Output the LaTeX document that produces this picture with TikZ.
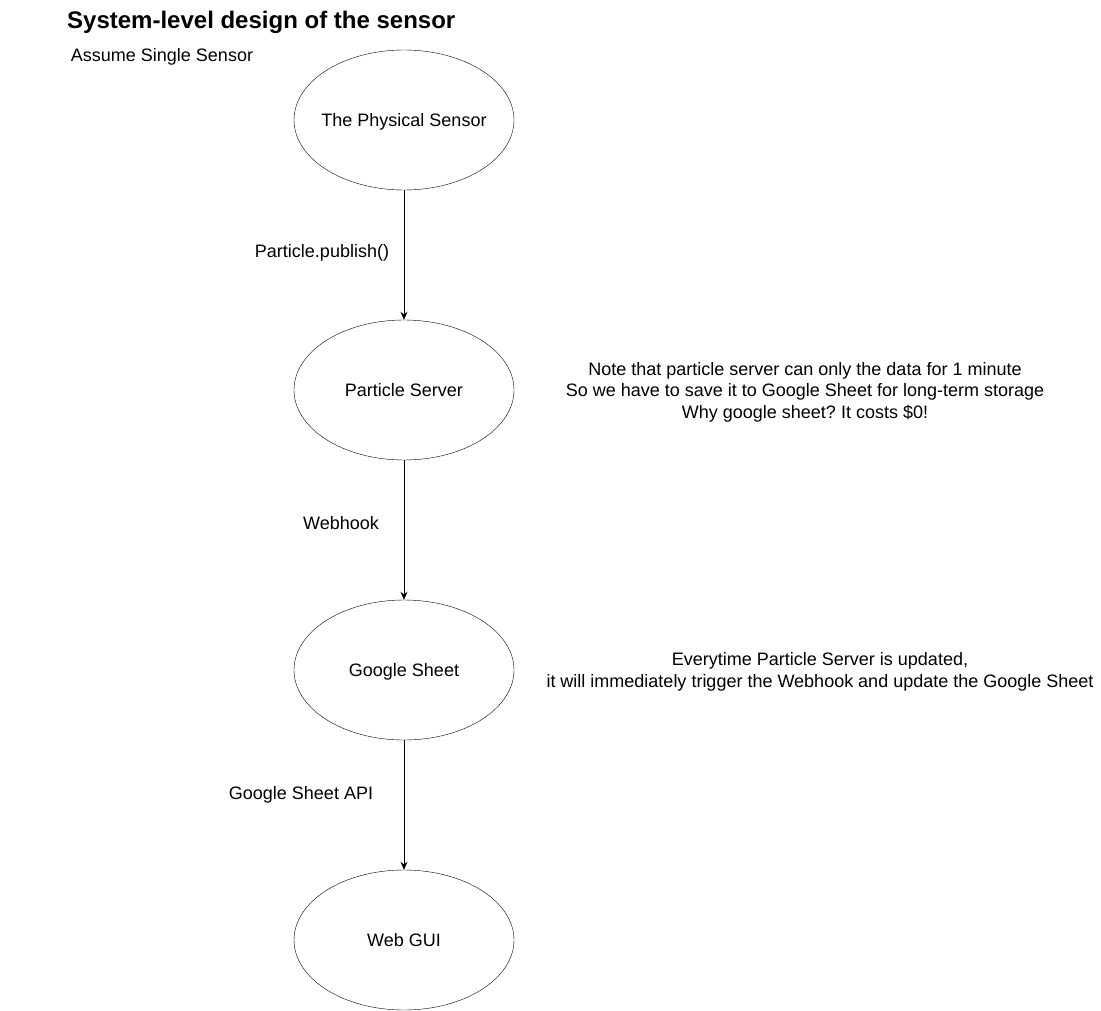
\documentclass[tikz,border=0pt]{standalone}
\usepackage{fontspec}
\setmainfont{Liberation Sans}
\frenchspacing
\usetikzlibrary{arrows.meta,positioning}
\tikzset{
    stage/.style={draw,ellipse,minimum width=220pt,minimum height=140pt,inner ysep=0pt,inner xsep=-40pt,text depth=0pt,font=\fontsize{18}{21.6}\selectfont},
    flow/.style={-{Stealth[length=8pt,width=7pt]},line width=0.8pt},
    lbl/.style={font=\fontsize{18}{21.6}\selectfont,inner sep=0pt},
    note/.style={font=\fontsize{18}{21.6}\selectfont,align=center,inner sep=0pt}
}
\usetikzlibrary{shapes.geometric}
\begin{document}
\begin{tikzpicture}[x=1pt,y=-1pt]
        \useasboundingbox (0,0) rectangle (1101,1011);
        %% title
        \node[anchor=west,font=\fontsize{24}{28}\selectfont\bfseries,inner sep=0pt] (title) at (67,22) {System-level design of the sensor};
        \node[lbl] (assume) at (162,57) {Assume Single Sensor};
        %% stages
        \node[stage] (sensor) at (404,120) {The Physical Sensor};
        \node[stage] (server) at (404,390) {Particle Server};
        \node[stage] (sheet) at (404,670) {Google Sheet};
        \node[stage] (gui) at (404,940) {Web GUI};
        %% connectors
        \draw[flow] (sensor) -- (server);
        \draw[flow] (server) -- (sheet);
        \draw[flow] (sheet) -- (gui);
        \node[lbl] (publish) at (322,253) {Particle.publish()};
        \node[lbl] (webhook) at (341,523) {Webhook};
        \node[lbl] (api) at (301,795) {Google Sheet API};
        %% notes
        \node[note] (storage) at (805,392) {Note that particle server can only the data for 1 minute\\So we have to save it to Google Sheet for long-term storage\\Why google sheet? It costs \$0!};
        \node[note] (trigger) at (820,672) {Everytime Particle Server is updated,\\it will immediately trigger the Webhook and update the Google Sheet};
    \end{tikzpicture}
\end{document}
